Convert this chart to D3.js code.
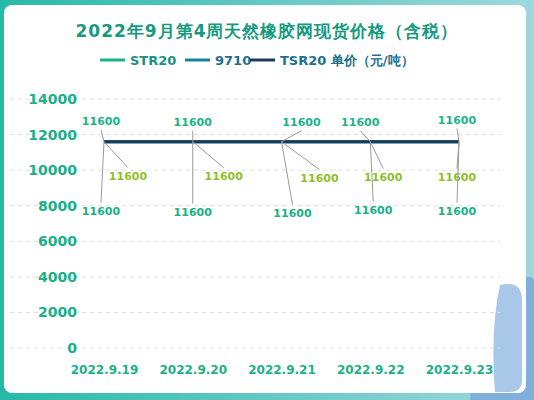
<!DOCTYPE html>
<html><head><meta charset="utf-8">
<script src="https://cdn.jsdelivr.net/npm/d3@7"></script>
<style>body{margin:0;background:#fff}text{font-family:"DejaVu Sans",sans-serif}</style>
</head><body><div id="chart"></div>
<script>
var dates = ["2022.9.19","2022.9.20","2022.9.21","2022.9.22","2022.9.23"];
var str20 = [11600,11600,11600,11600,11600];
var v9710 = [11600,11600,11600,11600,11600];
var tsr20 = [11600,11600,11600,11600,11600];
var yTicks = [0,2000,4000,6000,8000,10000,12000,14000];
var seriesNames = ["STR20","9710","TSR20"];
var seriesColors = ["#19b38a","#1c7fa0","#1d3a5e"];
var labelColors = ["#1ab48d","#8fbf2a","#19b08a"];
// label offsets (dx, dy) from each point: top, middle, bottom
var offsets = [
  [[-3,-17],[24,38],[-3,73]],
  [[0,-16],[31,38],[0,74]],
  [[20,-16],[38,40],[11,75]],
  [[-10,-16],[13,39],[3,72]],
  [[-2,-18],[-2,39],[-2,73]]
];

var W = 534, H = 400;
var svg = d3.select("#chart").append("svg").attr("width", W).attr("height", H);
var defs = svg.append("defs");
var g1 = defs.append("linearGradient").attr("id","bg").attr("x1",0).attr("x2",1);
g1.append("stop").attr("offset","0").attr("stop-color","#27b9a8");
g1.append("stop").attr("offset","1").attr("stop-color","#9fd8de");
svg.append("rect").attr("width",W).attr("height",H).attr("fill","url(#bg)");
svg.append("path").attr("d","M500,290 Q530,270 534,280 L534,400 L470,400 Q480,320 500,290Z").attr("fill","#7fb0dc");
svg.append("rect").attr("x",4).attr("y",5).attr("width",W-12).attr("height",H-12).attr("rx",8).attr("fill","#fff");
svg.append("path").attr("d","M500,285 Q522,280 522,300 L522,380 Q522,392 510,392 L495,392 Q490,330 500,285Z").attr("fill","#a9c8e8");

svg.append("text").attr("x",267).attr("y",37).attr("text-anchor","middle")
  .attr("font-size",17).attr("font-weight","bold").attr("fill","#179a80").attr("letter-spacing",1)
  .text("2022年9月第4周天然橡胶网现货价格（含税）");

var x = d3.scalePoint().domain(dates).range([104,459]);
var y = d3.scaleLinear().domain([0,14000]).range([348,99]);

var grid = svg.append("g");
grid.selectAll("line").data(yTicks).enter().append("line")
  .attr("x1",10).attr("x2",500).attr("y1",d=>y(d)).attr("y2",d=>y(d))
  .attr("stroke","#ddd").attr("stroke-dasharray","4,4");

var yAxis = d3.axisLeft(y).tickValues(yTicks).tickSize(0).tickFormat(d3.format("d"));
svg.append("g").attr("transform","translate(80,0)").call(yAxis)
  .call(a=>a.select(".domain").remove())
  .selectAll("text").attr("font-size",14).attr("font-weight","bold").attr("fill","#19b08a");

var xAxis = d3.axisBottom(x).tickSize(0);
svg.append("g").attr("transform","translate(0,360)").call(xAxis)
  .call(a=>a.select(".domain").remove())
  .selectAll("text").attr("font-size",12).attr("font-weight","bold").attr("fill","#19b08a").attr("dy","0.9em");

// legend
var legend = [[100,"STR20"],[185,"9710"],[250,"TSR20 单价（元/吨）"]];
legend.forEach(function(l,i){
  svg.append("line").attr("x1",l[0]).attr("x2",l[0]+25).attr("y1",60).attr("y2",60)
    .attr("stroke",seriesColors[i]).attr("stroke-width",3);
  svg.append("text").attr("x",l[0]+30).attr("y",65).attr("font-size",13).attr("font-weight","bold")
    .attr("fill", i==0?"#1a8f88":"#1c6f90").text(l[1]);
});

var series = [str20, v9710, tsr20];
var line = d3.line().x((d,i)=>x(dates[i])).y(d=>y(d));
series.forEach(function(s,k){
  svg.append("path").datum(s).attr("d",line).attr("fill","none")
    .attr("stroke",seriesColors[k]).attr("stroke-width",3);
});

var order = [2,1,0];
order.forEach(function(k,j){
  series[k].forEach(function(v,i){
    var px = x(dates[i]), py = y(v);
    var o = offsets[i][j];
    var lx = px + o[0], ly = py + o[1];
    var ey = j==0 ? ly+5 : ly-12;
    svg.append("polyline").attr("points",[px,py,lx,ey].join(","))
      .attr("fill","none").attr("stroke","#999").attr("stroke-width",1);
    svg.append("text").attr("x",lx).attr("y",ly).attr("text-anchor","middle")
      .attr("font-size",11).attr("font-weight","bold").attr("fill",labelColors[j]).text(v);
  });
});
</script></body></html>
